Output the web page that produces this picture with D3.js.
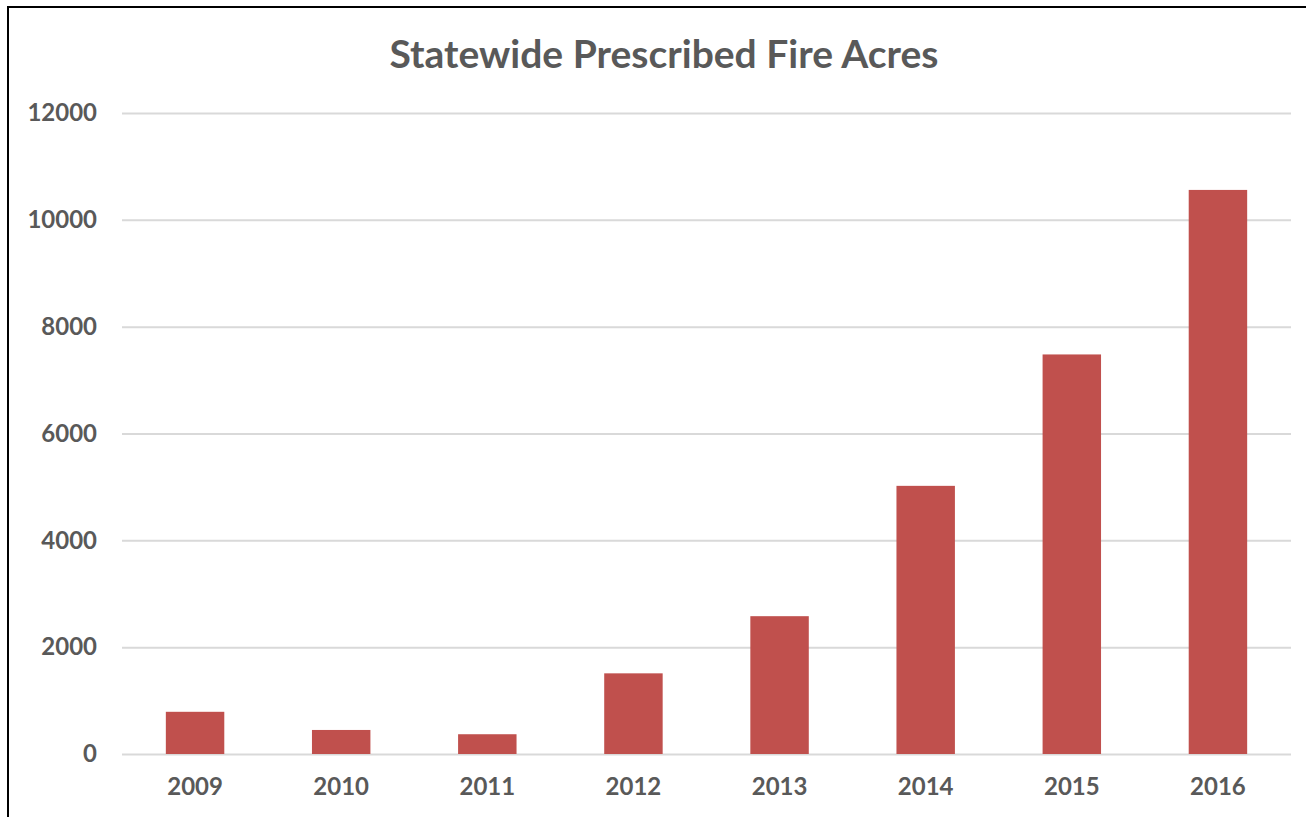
<!DOCTYPE html>
<html>
<head>
<meta charset="utf-8">
<script src="https://cdn.jsdelivr.net/npm/d3@7"></script>
<style>
  body { margin: 0; background: #fff; }
  svg { display: block; }
  .tick text { font-family: Lato, "Open Sans", sans-serif; font-weight: bold; fill: #595959; }
</style>
</head>
<body>
<div id="chart"></div>
<script>
// chart data
var years = ["2009", "2010", "2011", "2012", "2013", "2014", "2015", "2016"];
var acres = [790, 450, 370, 1510, 2580, 5020, 7480, 10560];
var yTicks = [0, 2000, 4000, 6000, 8000, 10000, 12000];

var w = 1306, h = 817;
var plotLeft = 122, plotRight = 1291, plotTop = 113, plotBottom = 754;

var svg = d3.select("#chart").append("svg")
    .attr("width", w)
    .attr("height", h);

// outer frame (right and bottom edges run off the picture)
svg.append("rect")
    .attr("x", 8).attr("y", 7)
    .attr("width", 1310).attr("height", 830)
    .attr("fill", "none")
    .attr("stroke", "#000")
    .attr("stroke-width", 2);

svg.append("text")
    .attr("x", 664)
    .attr("y", 68)
    .attr("text-anchor", "middle")
    .style("font-family", "Lato, 'Open Sans', sans-serif")
    .style("font-weight", "bold")
    .style("font-size", "39px")
    .style("fill", "#595959")
    .text("Statewide Prescribed Fire Acres");

var x = d3.scaleBand()
    .domain(years)
    .range([plotLeft, plotRight])
    .paddingInner(0.6)
    .paddingOuter(0.3);

var y = d3.scaleLinear()
    .domain([0, 12000])
    .range([plotBottom, plotTop]);

// gridlines + y labels
var yAxis = svg.append("g")
    .attr("transform", "translate(" + plotLeft + ",0)")
    .call(d3.axisLeft(y).tickValues(yTicks).tickSize(-(plotRight - plotLeft)).tickPadding(25).tickFormat(d3.format("d")));
yAxis.select(".domain").remove();
yAxis.selectAll(".tick line").attr("stroke", "#d9d9d9").attr("stroke-width", 2);
yAxis.selectAll(".tick text").style("font-size", "24px");

// bars
svg.append("g").selectAll("rect")
    .data(acres)
    .enter().append("rect")
    .attr("x", function(d, i) { return x(years[i]); })
    .attr("y", function(d) { return y(d); })
    .attr("width", x.bandwidth())
    .attr("height", function(d) { return y(0) - y(d); })
    .attr("fill", "#c0504d");

// x labels
var xAxis = svg.append("g")
    .attr("transform", "translate(0," + plotBottom + ")")
    .call(d3.axisBottom(x).tickSize(0).tickPadding(24));
xAxis.select(".domain").remove();
xAxis.selectAll(".tick text").style("font-size", "24px");
</script>
</body>
</html>
